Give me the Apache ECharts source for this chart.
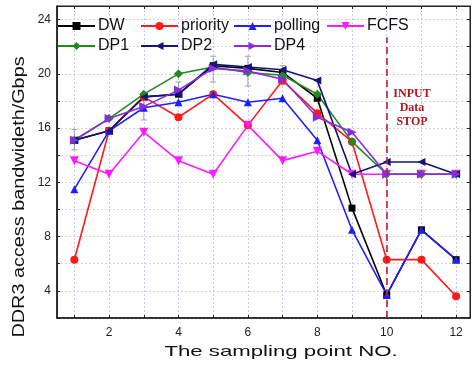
<!DOCTYPE html>
<html>
<head>
<meta charset="utf-8">
<script src="https://cdn.jsdelivr.net/npm/echarts@6/dist/echarts.min.js"></script>
<style>
  html, body { margin: 0; padding: 0; background: #fff; }
  #chart { width: 472px; height: 367px; }
</style>
</head>
<body>
<div id="chart"></div>
<script>
// sampling points 1..12
var points = [1, 2, 3, 4, 5, 6, 7, 8, 9, 10, 11, 12];

// bandwidth (Gbps)
var dw       = [15.1, 15.8, 18.3, 18.5, 20.6, 20.4, 20.1, 18.2, 10.1, 3.7, 8.5, 6.3];
var priority = [6.3, 15.8, 18.3, 16.8, 18.5, 16.2, 19.5, 17.1, 15.0, 6.3, 6.3, 3.6];
var polling  = [11.5, 15.8, 17.5, 17.9, 18.5, 17.9, 18.2, 15.1, 8.5, 3.7, 8.5, 6.3];
var fcfs     = [13.6, 12.6, 15.7, 13.6, 12.6, 16.2, 13.6, 14.3, 12.6, 12.6, 12.6, 12.6];
var dp1      = [15.1, 16.7, 18.5, 20.0, 20.5, 20.1, 19.9, 18.5, 15.0, 12.6, 12.6, 12.6];
var dp2      = [15.1, 15.8, 18.3, 18.5, 20.7, 20.5, 20.3, 19.5, 12.6, 13.5, 13.5, 12.6];
var dp4      = [15.1, 16.7, 17.6, 18.8, 20.4, 20.2, 19.6, 16.8, 15.7, 12.6, 12.6, 12.6];

// error bars [x, low, high]
var errX    = [1, 3, 4, 5, 6, 7];
var errLow  = [14.4, 16.6, 18.0, 19.4, 19.1, 19.2];
var errHigh = [15.9, 18.5, 19.4, 21.3, 21.3, 20.6];

// the moment input data stops
var stopPoint = 10;

var xTicks = [2, 4, 6, 8, 10, 12];

var myChart = echarts.init(document.getElementById('chart'));

function pairs(arr) {
    return arr.map(function (v, i) { return [points[i], v]; });
}

function lineSeries(name, data, color, symbol, size, rotate) {
    return {
        name: name,
        type: 'line',
        data: pairs(data),
        symbol: symbol,
        symbolSize: size,
        symbolRotate: rotate || 0,
        showAllSymbol: true,
        lineStyle: { color: color, width: 1.6 },
        itemStyle: { color: color },
        emphasis: { disabled: true },
        animation: false
    };
}

var errData = errX.map(function (x, i) { return [x, errLow[i], errHigh[i]]; });

var series = [
    {
        name: 'err',
        type: 'custom',
        data: errData,
        z: 1,
        renderItem: function (params, api) {
            var lo = api.coord([api.value(0), api.value(1)]);
            var hi = api.coord([api.value(0), api.value(2)]);
            var w = 3;
            var st = { stroke: '#a0a0a0', lineWidth: 1 };
            return {
                type: 'group',
                children: [
                    { type: 'line', shape: { x1: lo[0], y1: lo[1], x2: hi[0], y2: hi[1] }, style: st },
                    { type: 'line', shape: { x1: lo[0] - w, y1: lo[1], x2: lo[0] + w, y2: lo[1] }, style: st },
                    { type: 'line', shape: { x1: hi[0] - w, y1: hi[1], x2: hi[0] + w, y2: hi[1] }, style: st }
                ]
            };
        },
        animation: false
    },
    lineSeries('DW', dw, '#000000', 'rect', 7),
    lineSeries('priority', priority, '#ff1a1a', 'circle', 8),
    lineSeries('polling', polling, '#1f1fff', 'triangle', 8),
    lineSeries('FCFS', fcfs, '#ff1aff', 'triangle', 9, 180),
    lineSeries('DP1', dp1, '#1f8a1f', 'diamond', 9),
    lineSeries('DP2', dp2, '#14147a', 'triangle', 8, 90),
    lineSeries('DP4', dp4, '#8a2be2', 'triangle', 9, -90)
];

// red dashed marker line at stop point
series[1].markLine = {
    silent: true,
    symbol: 'none',
    label: { show: false },
    lineStyle: { color: '#c0202a', type: [7, 4], width: 1.6 },
    data: [[{ coord: [stopPoint, 2] }, { coord: [stopPoint, 22.7] }]]
};

function legendItem(name, left, top) {
    return {
        data: [name],
        left: left,
        top: top,
        itemWidth: 37,
        itemHeight: 10,
        itemGap: 0,
        padding: 0,
        selectedMode: false,
        textStyle: { fontSize: 16, color: '#111', fontFamily: 'Liberation Sans, Arial', padding: [0, 0, 0, -2] }
    };
}

option = {
    backgroundColor: '#fff',
    animation: false,
    grid: {
        left: 57, right: 2, top: 6, bottom: 49,
        show: true, borderColor: '#222', borderWidth: 1
    },
    legend: [
        legendItem('DW', 57, 18),
        legendItem('priority', 140, 18),
        legendItem('polling', 233, 18),
        legendItem('FCFS', 326, 18),
        legendItem('DP1', 57, 38),
        legendItem('DP2', 140, 38),
        legendItem('DP4', 233, 38)
    ],
    xAxis: [{
        type: 'value',
        min: 0.5,
        max: 12.4,
        axisLine: { lineStyle: { color: '#111', width: 1.5 } },
        axisTick: { inside: true, length: 3, customValues: points, lineStyle: { color: '#222' } },
        axisLabel: { customValues: xTicks, fontSize: 12, color: '#222', margin: 9, fontFamily: 'Liberation Sans, Arial' },
        splitLine: { show: true, lineStyle: { color: '#c8ccf2', type: [2, 2], width: 1 } }
    }, {
        type: 'value',
        position: 'top',
        min: 0.5,
        max: 12.4,
        axisLine: { show: true, lineStyle: { color: '#222' } },
        axisTick: { inside: true, length: 3, customValues: points, lineStyle: { color: '#222' } },
        axisLabel: { show: false },
        splitLine: { show: false }
    }],
    yAxis: [{
        type: 'value',
        min: 2,
        max: 25,
        interval: 2,
        axisLine: { show: true, lineStyle: { color: '#111', width: 1.5 } },
        axisTick: { show: true, inside: true, length: 3, lineStyle: { color: '#222' } },
        axisLabel: {
            fontSize: 12, color: '#222', margin: 6, fontFamily: 'Liberation Sans, Arial',
            formatter: function (v) { return v % 4 === 0 ? v : ''; }
        },
        splitLine: { show: true, lineStyle: { color: '#d4d4d4', type: [2, 2], width: 1 } }
    }, {
        type: 'value',
        position: 'right',
        min: 2,
        max: 25,
        interval: 2,
        axisLine: { show: true, lineStyle: { color: '#222' } },
        axisTick: { show: true, inside: true, length: 3, lineStyle: { color: '#222' } },
        axisLabel: { show: false },
        splitLine: { show: false }
    }],
    graphic: [{
        // axis titles, stretched like the original figure
        type: 'text',
        x: 281,
        y: 352,
        scaleX: 1.48,
        style: {
            text: 'The sampling point NO.',
            align: 'center',
            verticalAlign: 'middle',
            fill: '#111',
            font: '15px "Liberation Sans", Arial'
        }
    }, {
        type: 'text',
        x: 19.5,
        y: 197,
        rotation: Math.PI / 2,
        scaleX: 1.24,
        style: {
            text: 'DDR3 access bandwideth/Gbps',
            align: 'center',
            verticalAlign: 'middle',
            fill: '#111',
            font: '16px "Liberation Sans", Arial'
        }
    }, {
        type: 'text',
        x: 412,
        y: 87,
        style: {
            text: 'INPUT\nData\nSTOP',
            align: 'center',
            fill: '#b0141c',
            font: 'bold 12px "Liberation Serif", serif',
            lineHeight: 14
        }
    }],
    series: series
};

myChart.setOption(option);
</script>
</body>
</html>
